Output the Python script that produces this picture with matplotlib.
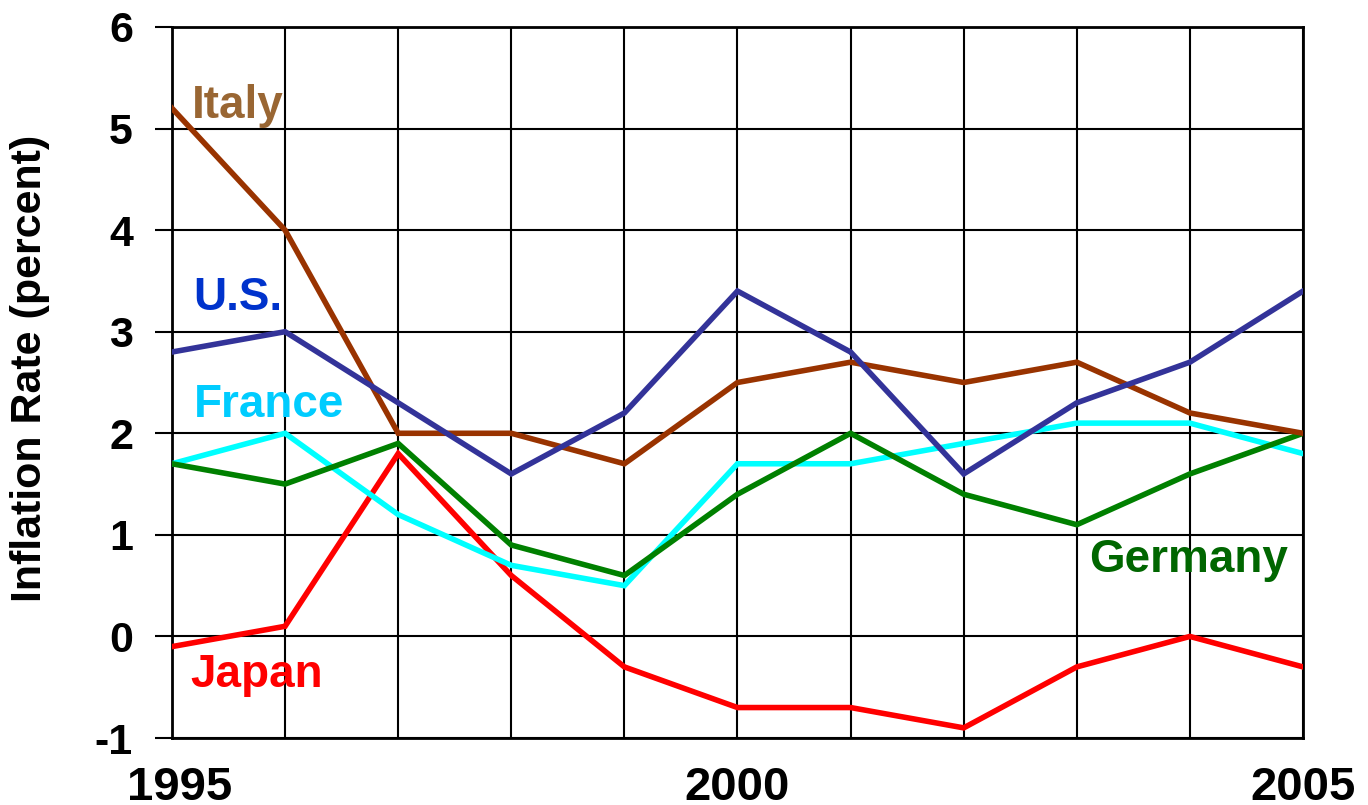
import matplotlib
matplotlib.use("Agg")
import matplotlib.pyplot as plt
import matplotlib.transforms as mtransforms

plt.rcParams['font.family'] = ['Liberation Sans', 'DejaVu Sans']
plt.rcParams['font.weight'] = 'bold'

years = [1995, 1996, 1997, 1998, 1999, 2000, 2001, 2002, 2003, 2004, 2005]
us = [2.8, 3.0, 2.3, 1.6, 2.2, 3.4, 2.8, 1.6, 2.3, 2.7, 3.4]
italy = [5.2, 4.0, 2.0, 2.0, 1.7, 2.5, 2.7, 2.5, 2.7, 2.2, 2.0]
france = [1.7, 2.0, 1.2, 0.7, 0.5, 1.7, 1.7, 1.9, 2.1, 2.1, 1.8]
germany = [1.7, 1.5, 1.9, 0.9, 0.6, 1.4, 2.0, 1.4, 1.1, 1.6, 2.0]
japan = [-0.1, 0.1, 1.8, 0.6, -0.3, -0.7, -0.7, -0.9, -0.3, 0.0, -0.3]

x_tick_labels = ['1995', '', '', '', '', '2000', '', '', '', '', '2005']
y_ticks = [-1, 0, 1, 2, 3, 4, 5, 6]

# series: values, line colour, label text, label colour, label anchor (year, value)
series = [
    (japan, '#FF0000', 'Japan', '#FF0000', (1995.16, -0.50)),
    (france, '#00FFFF', 'France', '#00CCFF', (1995.19, 2.16)),
    (germany, '#008000', 'Germany', '#006600', (2003.11, 0.63)),
    (italy, '#993300', 'Italy', '#996633', (1995.18, 5.10)),
    (us, '#333399', 'U.S.', '#0033CC', (1995.19, 3.21)),
]

fig = plt.figure(figsize=(13.68, 8.05), dpi=100)
ax = fig.add_axes([0.1257, 0.0832, 0.8268, 0.8833])

for vals, col, name, lcol, (lx, ly) in series:
    ax.plot(years, vals, color=col, lw=4.0, solid_joinstyle='miter', zorder=3)
    ax.text(lx, ly, name, color=lcol, fontsize=33, fontweight='bold',
            ha='left', va='baseline', zorder=4)

ax.set_xlim(1995, 2005)
ax.set_ylim(-1, 6)
ax.set_xticks(years)
ax.set_xticklabels(x_tick_labels)
ax.set_yticks(y_ticks)
ax.set_yticklabels([str(v) for v in y_ticks])

ax.grid(True, color='black', lw=1.5, zorder=1)
ax.set_axisbelow(True)
for s in ax.spines.values():
    s.set_color('black')
    s.set_linewidth(2)

ax.tick_params(axis='y', length=12, width=1.5, pad=16, labelsize=31, direction='out')
ax.tick_params(axis='x', length=0, pad=20, labelsize=34)
for t in ax.get_xticklabels() + ax.get_yticklabels():
    t.set_fontweight('bold')

# nudge the first year label right so it clears the axis corner
first = ax.get_xticklabels()[0]
first.set_transform(first.get_transform() +
                    mtransforms.ScaledTranslation(8 / 100, 0, fig.dpi_scale_trans))

fig.text(30 / 1368, 1 - 368 / 805, 'Inflation Rate (percent)', rotation=90,
         ha='center', va='center', fontsize=31, fontweight='bold')

fig.savefig('out.png', dpi=100)
